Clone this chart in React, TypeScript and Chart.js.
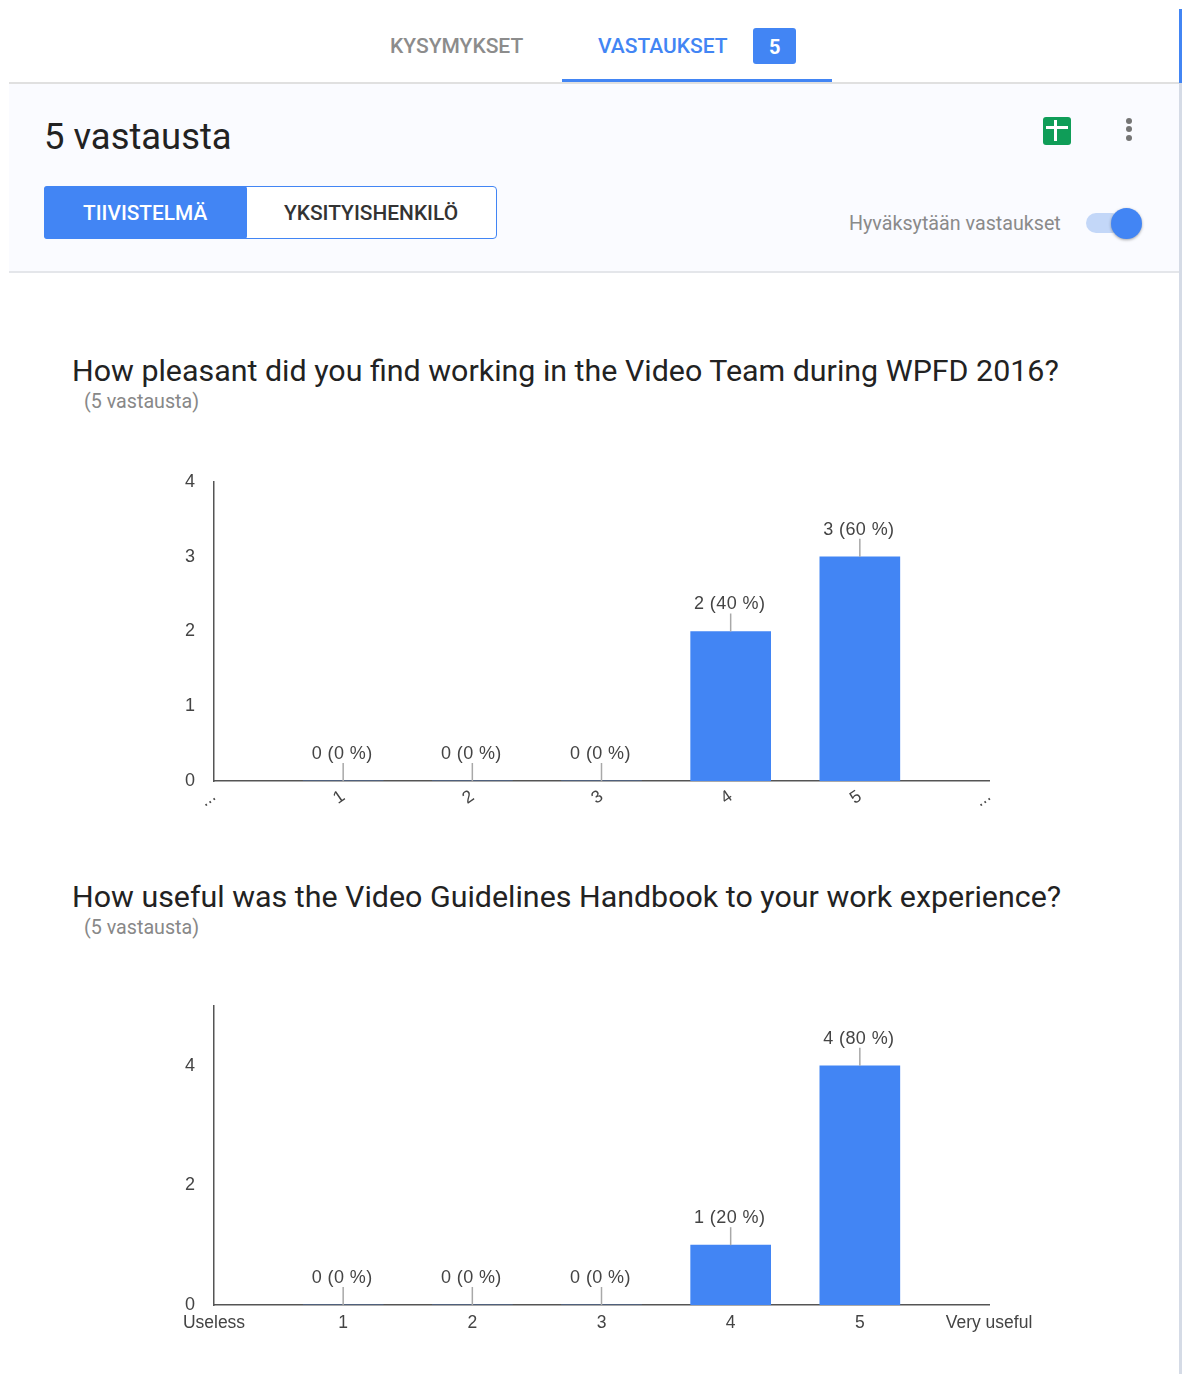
import React, { useEffect, useRef } from "react";
import { Chart, registerables } from "chart.js";

Chart.register(...registerables);

const categoriesPleasant = ["...", "1", "2", "3", "4", "5", "..."];
const valuesPleasant = [null, 0, 0, 0, 2, 3, null];
const yTicksPleasant = [0, 1, 2, 3, 4];

const categoriesUseful = ["Useless", "1", "2", "3", "4", "5", "Very useful"];
const valuesUseful = [null, 0, 0, 0, 1, 4, null];
const yTicksUseful = [0, 2, 4];

const BLUE = "#4285f4";
const CHART_FONT = "'Liberation Sans', Arial, sans-serif";
const UI_FONT = "Roboto, sans-serif";

const calloutPlugin = {
  id: "callouts",
  afterDatasetsDraw(chart: any) {
    const { ctx } = chart;
    const data = chart.data.datasets[0].data as (number | null)[];
    const total = data.reduce((a: number, b) => a + (b ?? 0), 0);
    const meta = chart.getDatasetMeta(0);
    ctx.save();
    data.forEach((v, i) => {
      if (v === null) return;
      const el = meta.data[i];
      const x = el.x;
      const top = chart.scales.y.getPixelForValue(v);
      ctx.strokeStyle = "#a8a8a8";
      ctx.lineWidth = 1.5;
      ctx.beginPath();
      ctx.moveTo(x, top);
      ctx.lineTo(x, top - 18);
      ctx.stroke();
      ctx.fillStyle = "#444";
      ctx.font = `18px ${CHART_FONT}`;
      ctx.textAlign = "center";
      ctx.textBaseline = "middle";
      ctx.letterSpacing = "0.4px";
      ctx.fillText(`${v} (${Math.round((v / total) * 100)} %)`, x - 1, top - 27);
    });
    ctx.restore();
  },
};

function zeroPadding(s: any) {
  s.paddingTop = 0;
  s.paddingBottom = 0;
  s.paddingLeft = 0;
  s.paddingRight = 0;
}

function Bars(props: {
  labels: string[];
  values: (number | null)[];
  yTicks: number[];
  max: number;
  top: number;
  height: number;
  paddingTop: number;
  xHeight: number;
  rotation: number;
  xPadding: number;
}) {
  const ref = useRef<HTMLCanvasElement>(null);
  useEffect(() => {
    const chart = new Chart(ref.current!, {
      type: "bar",
      data: {
        labels: props.labels,
        datasets: [{ data: props.values, backgroundColor: BLUE, barThickness: 80 }],
      },
      plugins: [calloutPlugin],
      options: {
        animation: false,
        responsive: false,
        layout: { autoPadding: false, padding: { top: props.paddingTop, right: 51, left: 0, bottom: 0 } },
        plugins: { legend: { display: false }, tooltip: { enabled: false }, title: { display: false } },
        scales: {
          x: {
            offset: false,
            grid: { display: false },
            border: { display: true, color: "#555", width: 1.5 },
            afterFit: (s: any) => {
              s.height = props.xHeight;
              zeroPadding(s);
            },
            ticks: {
              autoSkip: false,
              minRotation: props.rotation,
              maxRotation: props.rotation,
              padding: props.xPadding,
              color: "#444",
              font: { family: CHART_FONT, size: 17.5 },
            },
          },
          y: {
            min: 0,
            max: props.max,
            grid: { display: false },
            border: { display: true, color: "#555", width: 1.5 },
            afterFit: (s: any) => {
              s.width = 64;
              zeroPadding(s);
            },
            afterBuildTicks: (s: any) => {
              s.ticks = props.yTicks.map((value) => ({ value }));
            },
            ticks: {
              padding: 11,
              color: "#444",
              font: { family: CHART_FONT, size: 18 },
            },
          },
        },
      },
    } as any);
    return () => chart.destroy();
  }, []);
  return (
    <canvas
      ref={ref}
      width={890}
      height={props.height}
      style={{ position: "absolute", left: 150, top: props.top, width: 890, height: props.height }}
    />
  );
}

function Txt(props: { x: number; y: number; size: number; color: string; weight?: number; children: React.ReactNode; spacing?: number }) {
  return (
    <span
      style={{
        position: "absolute",
        left: props.x,
        top: props.y,
        transform: "translateY(-50%)",
        fontFamily: UI_FONT,
        fontSize: props.size,
        fontWeight: props.weight ?? 400,
        color: props.color,
        whiteSpace: "nowrap",
        lineHeight: 1,
        letterSpacing: props.spacing ?? 0,
      }}
    >
      {props.children}
    </span>
  );
}

function Box(props: { x: number; y: number; w: number; h: number; bg: string; radius?: number; extra?: React.CSSProperties }) {
  return (
    <div
      style={{
        position: "absolute",
        left: props.x,
        top: props.y,
        width: props.w,
        height: props.h,
        background: props.bg,
        borderRadius: props.radius ?? 0,
        ...props.extra,
      }}
    />
  );
}

export default function App() {
  useEffect(() => {
    document.body.style.margin = "0";
    document.body.style.background = "#fff";
  }, []);
  return (
    <div style={{ position: "absolute", left: 0, top: 0, width: 1187, height: 1374, overflow: "hidden", background: "#fff", filter: "blur(0.5px)" }}>
      {/* scrollbar */}
      <Box x={1179} y={82} w={3} h={1292} bg="#d5dbe6" />
      <Box x={1179} y={9} w={3} h={74} bg={BLUE} />

      {/* tabs */}
      <Txt x={390} y={46} size={21} color="#8c8c8c" weight={500}>KYSYMYKSET</Txt>
      <Txt x={598} y={46} size={21} color={BLUE} weight={500}>VASTAUKSET</Txt>
      <Box x={753} y={28} w={43} h={36} bg={BLUE} radius={3} />
      <Txt x={769} y={47} size={20} color="#fff" weight={700}>5</Txt>
      <Box x={562} y={79} w={270} h={3} bg={BLUE} />

      {/* header band */}
      <Box x={9} y={82} w={1170} h={190} bg="#fafbff" />
      <Box x={9} y={82} w={1170} h={1.5} bg="#e0e0e0" />
      <Box x={9} y={271} w={1170} h={1.5} bg="#e4e6ea" />
      <Txt x={44} y={137} size={36.4} color="#222">5 vastausta</Txt>

      {/* segmented control */}
      <Box x={44} y={186} w={453} h={53} bg="#fff" radius={4} extra={{ border: `1.5px solid ${BLUE}`, boxSizing: "border-box" }} />
      <Box x={44} y={186} w={203} h={53} bg={BLUE} radius={3} />
      <Txt x={83} y={213} size={20.8} color="#fff" weight={500}>TIIVISTELMÄ</Txt>
      <Txt x={284} y={213} size={20.9} color="#333" weight={500}>YKSITYISHENKILÖ</Txt>

      {/* sheets icon, menu dots */}
      <Box x={1043} y={117} w={28} h={28} bg="#0f9d58" radius={3} />
      <Box x={1046} y={126} w={22} h={3} bg="#fff" />
      <Box x={1054} y={120} w={3} h={21} bg="#fff" />
      {[121, 129, 138].map((y) => (
        <Box key={y} x={1126} y={y - 3} w={6} h={6} bg="#757575" radius={3} />
      ))}

      {/* toggle */}
      <Txt x={849} y={224} size={19.7} color="#8a8a8a">Hyväksytään vastaukset</Txt>
      <Box x={1086} y={213} w={36} h={20} bg="#c3d7f8" radius={10} />
      <Box x={1111} y={208} w={31} h={31} bg={BLUE} radius={16} extra={{ boxShadow: "0 1px 3px rgba(0,0,0,0.35)" }} />

      {/* question 1 */}
      <Txt x={72} y={371} size={30.4} color="#222">How pleasant did you find working in the Video Team during WPFD 2016?</Txt>
      <Txt x={84} y={402} size={19.7} color="#888">(5 vastausta)</Txt>
      <Bars
        labels={categoriesPleasant}
        values={valuesPleasant}
        yTicks={yTicksPleasant}
        max={4}
        top={471}
        height={360}
        paddingTop={11}
        xHeight={50}
        rotation={35}
        xPadding={-3}
      />

      {/* question 2 */}
      <Txt x={72} y={897} size={30.4} color="#222">How useful was the Video Guidelines Handbook to your work experience?</Txt>
      <Txt x={84} y={928} size={19.7} color="#888">(5 vastausta)</Txt>
      <Bars
        labels={categoriesUseful}
        values={valuesUseful}
        yTicks={yTicksUseful}
        max={5}
        top={996}
        height={360}
        paddingTop={10}
        xHeight={51}
        rotation={0}
        xPadding={0}
      />
    </div>
  );
}
